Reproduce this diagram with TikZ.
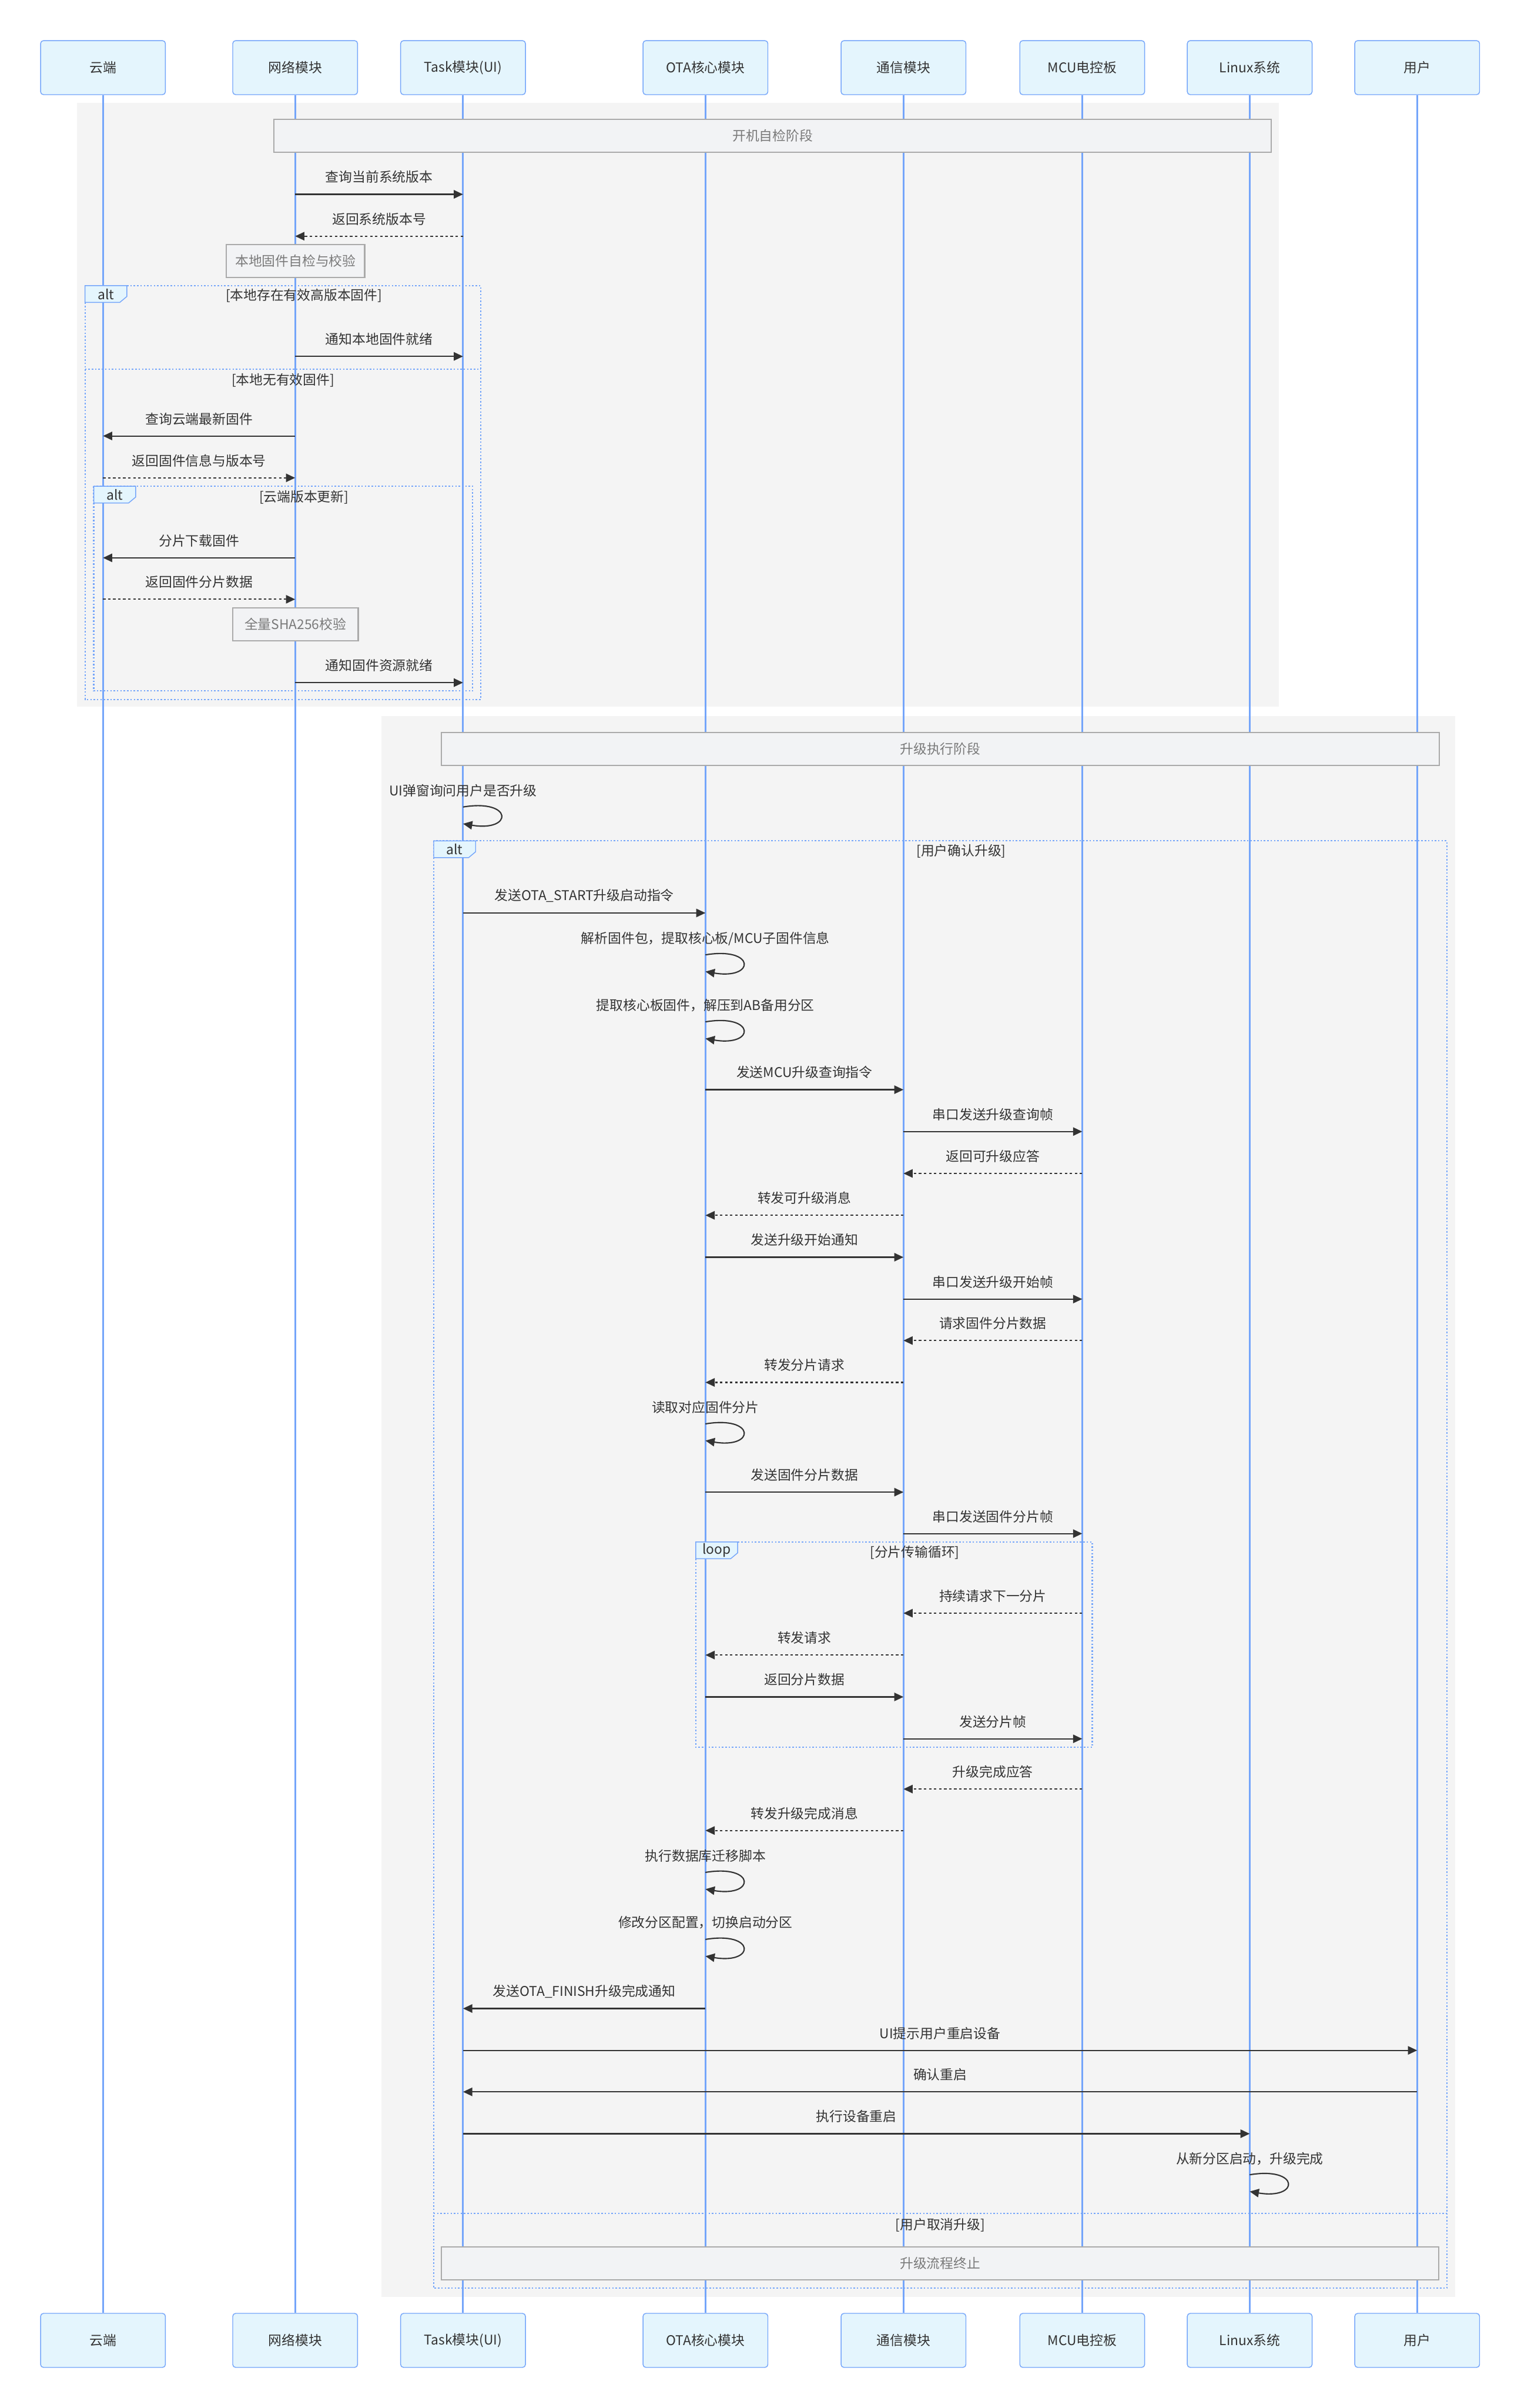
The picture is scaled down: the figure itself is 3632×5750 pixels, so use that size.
\documentclass[tikz,border=0pt]{standalone}
\usepackage{fontspec}
\setmainfont{Noto Sans CJK SC}
\usepackage{xcolor}
\usepackage{tikz}
\usetikzlibrary{arrows.meta, positioning, calc}
\definecolor{seqblue}{HTML}{74A5FA}
\definecolor{seqfill}{HTML}{E4F5FD}
\definecolor{seqtext}{HTML}{333333}
\definecolor{phasebg}{HTML}{F4F4F4}
\definecolor{notefill}{HTML}{F2F3F5}
\definecolor{noteline}{HTML}{AAAAAA}
\definecolor{notetext}{HTML}{7A7A7A}
\newcommand{\seqfont}{\fontsize{9.1}{11}\selectfont}

\begin{document}
\begin{tikzpicture}[
  x=0.01cm, y=-0.01cm,
  actor/.style={rectangle, draw=seqblue, fill=seqfill, rounded corners=2pt, line width=0.02cm,
    minimum width=2.98cm, minimum height=1.29cm, font=\seqfont, text=seqtext},
  lifeline/.style={draw=seqblue, line width=0.04cm},
  note/.style={rectangle, draw=noteline, fill=notefill, line width=0.03cm, font=\seqfont, text=notetext,
    minimum height=0.78cm, inner sep=0pt},
  frame/.style={draw=seqblue, line width=0.03cm, dash pattern=on 0.035cm off 0.045cm},
  flabel/.style={draw=seqblue, fill=seqfill, line width=0.02cm},
  cond/.style={font=\seqfont, text=seqtext},
  sync/.style={draw=seqtext, line width=0.03cm, -{Triangle[length=0.22cm, width=0.2cm]}},
  reply/.style={sync, dash pattern=on 0.06cm off 0.06cm},
  lbl/.style={font=\seqfont, text=seqtext, yshift=0.41cm, inner sep=1pt},
]
  \fill[white] (0,0) rectangle (3632,5750);
  \useasboundingbox (0,0) rectangle (3632,5750);

  % phase backgrounds
  \fill[phasebg] (184,246) rectangle (3055,1688);
  \fill[phasebg] (911,1710) rectangle (3476,5484);

  % participants
  \node[actor] (cloudT) at (246,161.5) {云端};
  \node[actor] (netT) at (705,161.5) {网络模块};
  \node[actor] (taskT) at (1106,161.5) {Task模块(UI)};
  \node[actor] (otaT) at (1685,161.5) {OTA核心模块};
  \node[actor] (commT) at (2158,161.5) {通信模块};
  \node[actor] (mcuT) at (2585,161.5) {MCU电控板};
  \node[actor] (linuxT) at (2985,161.5) {Linux系统};
  \node[actor] (userT) at (3385,161.5) {用户};

  \node[actor] (cloudB) at (246,5588.5) {云端};
  \node[actor] (netB) at (705,5588.5) {网络模块};
  \node[actor] (taskB) at (1106,5588.5) {Task模块(UI)};
  \node[actor] (otaB) at (1685,5588.5) {OTA核心模块};
  \node[actor] (commB) at (2158,5588.5) {通信模块};
  \node[actor] (mcuB) at (2585,5588.5) {MCU电控板};
  \node[actor] (linuxB) at (2985,5588.5) {Linux系统};
  \node[actor] (userB) at (3385,5588.5) {用户};

  \draw[lifeline] (cloudT) -- (cloudB);
  \draw[lifeline] (netT) -- (netB);
  \draw[lifeline] (taskT) -- (taskB);
  \draw[lifeline] (otaT) -- (otaB);
  \draw[lifeline] (commT) -- (commB);
  \draw[lifeline] (mcuT) -- (mcuB);
  \draw[lifeline] (linuxT) -- (linuxB);
  \draw[lifeline] (userT) -- (userB);

  % boot check phase
  \node[note, minimum width=23.81cm] (bootNote) at (1845.5,324.5) {开机自检阶段};
  \draw[sync] (netT |- 0,464) -- node[lbl] (m1) {查询当前系统版本} (taskT |- 0,464);
  \draw[reply] (taskT |- 0,564) -- node[lbl] (m2) {返回系统版本号} (netT |- 0,564);
  \node[note, minimum width=3.3cm] (checkNote) at (706,623) {本地固件自检与校验};

  % alt: local firmware
  \draw[frame] (203,682) rectangle (1148,1670);
  \draw[frame] (203,881.5) -- (1148,881.5);
  \draw[flabel] (203,682) -- ++(100,0) -- ++(0,26) -- ++(-16.8,14) -- ++(-83.2,0) -- cycle;
  \node[cond] (alt1) at (253,702) {alt};
  \node[cond] (alt1c) at (726,706) {[本地存在有效高版本固件]};
  \node[cond] (alt1e) at (676,908) {[本地无有效固件]};
  \draw[sync] (netT |- 0,851) -- node[lbl] (m3) {通知本地固件就绪} (taskT |- 0,851);
  \draw[sync] (netT |- 0,1041) -- node[lbl] (m4) {查询云端最新固件} (cloudT |- 0,1041);
  \draw[reply] (cloudT |- 0,1141) -- node[lbl] (m5) {返回固件信息与版本号} (netT |- 0,1141);

  % alt: cloud update
  \draw[frame] (224,1161) rectangle (1129,1650);
  \draw[flabel] (224,1161) -- ++(100,0) -- ++(0,26) -- ++(-16.8,14) -- ++(-83.2,0) -- cycle;
  \node[cond] (alt2) at (274,1181) {alt};
  \node[cond] (alt2c) at (726,1187) {[云端版本更新]};
  \draw[sync] (netT |- 0,1332) -- node[lbl] (m6) {分片下载固件} (cloudT |- 0,1332);
  \draw[reply] (cloudT |- 0,1431) -- node[lbl] (m7) {返回固件分片数据} (netT |- 0,1431);
  \node[note, minimum width=3.0cm] (shaNote) at (705.6,1491) {全量SHA256校验};
  \draw[sync] (netT |- 0,1630) -- node[lbl] (m8) {通知固件资源就绪} (taskT |- 0,1630);

  % upgrade phase
  \node[note, minimum width=23.82cm] (upNote) at (2246,1788.5) {升级执行阶段};
  \node[cond] (s1) at (taskT |- 0,1888) {UI弹窗询问用户是否升级};
  \draw[sync] (taskT |- 0,1927) .. controls +(120,-20) and +(120,20) .. (taskT |- 0,1967);

  % alt: user choice
  \draw[frame] (1036,2008) rectangle (3456,5464);
  \draw[frame] (1036,5285.5) -- (3456,5285.5);
  \draw[flabel] (1036,2008) -- ++(100,0) -- ++(0,26) -- ++(-16.8,14) -- ++(-83.2,0) -- cycle;
  \node[cond] (alt3) at (1086,2028) {alt};
  \node[cond] (alt3c) at (2296,2032) {[用户确认升级]};
  \node[cond] (alt3e) at (2246,5313) {[用户取消升级]};

  \draw[sync] (taskT |- 0,2180) -- node[lbl] (m9) {发送OTA\_START升级启动指令} (otaT |- 0,2180);
  \node[cond] (s2) at (otaT |- 0,2241) {解析固件包，提取核心板/MCU子固件信息};
  \draw[sync] (otaT |- 0,2280) .. controls +(120,-20) and +(120,20) .. (otaT |- 0,2320);
  \node[cond] (s3) at (otaT |- 0,2401) {提取核心板固件，解压到AB备用分区};
  \draw[sync] (otaT |- 0,2440) .. controls +(120,-20) and +(120,20) .. (otaT |- 0,2480);
  \draw[sync] (otaT |- 0,2602) -- node[lbl] (m10) {发送MCU升级查询指令} (commT |- 0,2602);
  \draw[sync] (commT |- 0,2702) -- node[lbl] (m11) {串口发送升级查询帧} (mcuT |- 0,2702);
  \draw[reply] (mcuT |- 0,2802) -- node[lbl] (m12) {返回可升级应答} (commT |- 0,2802);
  \draw[reply] (commT |- 0,2902) -- node[lbl] (m13) {转发可升级消息} (otaT |- 0,2902);
  \draw[sync] (otaT |- 0,3002) -- node[lbl] (m14) {发送升级开始通知} (commT |- 0,3002);
  \draw[sync] (commT |- 0,3102) -- node[lbl] (m15) {串口发送升级开始帧} (mcuT |- 0,3102);
  \draw[reply] (mcuT |- 0,3201) -- node[lbl] (m16) {请求固件分片数据} (commT |- 0,3201);
  \draw[reply] (commT |- 0,3301) -- node[lbl] (m17) {转发分片请求} (otaT |- 0,3301);
  \node[cond] (s4) at (otaT |- 0,3361) {读取对应固件分片};
  \draw[sync] (otaT |- 0,3400) .. controls +(120,-20) and +(120,20) .. (otaT |- 0,3440);
  \draw[sync] (otaT |- 0,3563) -- node[lbl] (m18) {发送固件分片数据} (commT |- 0,3563);
  \draw[sync] (commT |- 0,3662) -- node[lbl] (m19) {串口发送固件分片帧} (mcuT |- 0,3662);

  % loop: chunk transfer
  \draw[frame] (1662,3682) rectangle (2609,4172);
  \draw[flabel] (1662,3682) -- ++(100,0) -- ++(0,26) -- ++(-16.8,14) -- ++(-83.2,0) -- cycle;
  \node[cond] (loop1) at (1712,3702) {loop};
  \node[cond] (loop1c) at (2185,3707) {[分片传输循环]};
  \draw[reply] (mcuT |- 0,3852) -- node[lbl] (m20) {持续请求下一分片} (commT |- 0,3852);
  \draw[reply] (commT |- 0,3952) -- node[lbl] (m21) {转发请求} (otaT |- 0,3952);
  \draw[sync] (otaT |- 0,4052) -- node[lbl] (m22) {返回分片数据} (commT |- 0,4052);
  \draw[sync] (commT |- 0,4152) -- node[lbl] (m23) {发送分片帧} (mcuT |- 0,4152);

  \draw[reply] (mcuT |- 0,4272) -- node[lbl] (m24) {升级完成应答} (commT |- 0,4272);
  \draw[reply] (commT |- 0,4371) -- node[lbl] (m25) {转发升级完成消息} (otaT |- 0,4371);
  \node[cond] (s5) at (otaT |- 0,4432) {执行数据库迁移脚本};
  \draw[sync] (otaT |- 0,4471) .. controls +(120,-20) and +(120,20) .. (otaT |- 0,4511);
  \node[cond] (s6) at (otaT |- 0,4591) {修改分区配置，切换启动分区};
  \draw[sync] (otaT |- 0,4631) .. controls +(120,-20) and +(120,20) .. (otaT |- 0,4671);
  \draw[sync] (otaT |- 0,4796) -- node[lbl] (m26) {发送OTA\_FINISH升级完成通知} (taskT |- 0,4796);
  \draw[sync] (taskT |- 0,4896) -- node[lbl] (m27) {UI提示用户重启设备} (userT |- 0,4896);
  \draw[sync] (userT |- 0,4995) -- node[lbl] (m28) {确认重启} (taskT |- 0,4995);
  \draw[sync] (taskT |- 0,5095) -- node[lbl] (m29) {执行设备重启} (linuxT |- 0,5095);
  \node[cond] (s7) at (linuxT |- 0,5155) {从新分区启动，升级完成};
  \draw[sync] (linuxT |- 0,5193) .. controls +(120,-20) and +(120,20) .. (linuxT |- 0,5233);

  \node[note, minimum width=23.81cm] (stopNote) at (2245.5,5404.5) {升级流程终止};
\end{tikzpicture}
\end{document}
